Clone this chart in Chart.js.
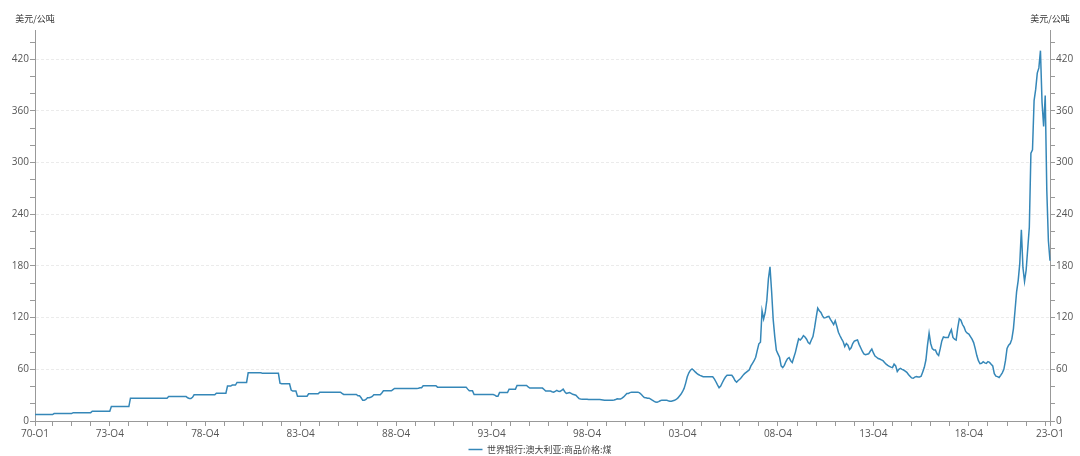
<!DOCTYPE html>
<html>
<head>
<meta charset="utf-8">
<script src="https://cdn.jsdelivr.net/npm/chart.js@4.4.1/dist/chart.umd.min.js"></script>
<style>
    body { margin: 0; background: #fff; }
    #wrap { width: 1080px; height: 456px; position: relative; }
</style>
</head>
<body>
<div id="wrap"><canvas id="coal"></canvas></div>
<script>
var startYear = 1970;
var unitLabel = '美元/公吨';
var seriesName = '世界银行:澳大利亚:商品价格:煤';
var lineColor = '#3587b8';

// labels printed under the x axis
var shownTicks = ['70-Q1', '73-Q4', '78-Q4', '83-Q4', '88-Q4', '93-Q4', '98-Q4',
    '03-Q4', '08-Q4', '13-Q4', '18-Q4', '23-Q1'];

// monthly price, USD/t, one row per year (Jan..Dec)
var coalPrice = [
    7.5, 7.5, 7.5, 7.5, 7.5, 7.5, 7.5, 7.5, 7.5, 7.5, 7.5, 7.5,                 // 1970
    8.6, 8.6, 8.6, 8.6, 8.6, 8.6, 8.6, 8.6, 8.6, 8.6, 8.6, 8.6,
    9.7, 9.7, 9.7, 9.7, 9.7, 9.7, 9.7, 9.7, 9.7, 9.7, 9.7, 9.7,
    11.3, 11.3, 11.3, 11.3, 11.3, 11.3, 11.3, 11.3, 11.3, 11.3, 11.3, 11.3,
    16.8, 16.8, 16.8, 16.8, 16.8, 16.8, 16.8, 16.8, 16.8, 16.8, 16.8, 16.8,
    26.5, 26.5, 26.5, 26.5, 26.5, 26.5, 26.5, 26.5, 26.5, 26.5, 26.5, 26.5,     // 1975
    26.5, 26.5, 26.5, 26.5, 26.5, 26.5, 26.5, 26.5, 26.5, 26.5, 26.5, 26.5,
    28.4, 28.4, 28.4, 28.4, 28.4, 28.4, 28.4, 28.4, 28.4, 28.4, 28.4, 28.4,
    27, 26, 26, 27.5, 30.4, 30.4, 30.4, 30.4, 30.4, 30.4, 30.4, 30.4,
    30.4, 30.4, 30.4, 30.4, 30.4, 30.4, 32.3, 32.3, 32.3, 32.3, 32.3, 32.3,
    32.3, 40.5, 40.5, 40.5, 41.7, 41.7, 41.7, 44.8, 44.8, 44.8, 44.8, 44.8,     // 1980
    44.8, 44.8, 56, 56, 56, 56, 56, 56, 56, 56, 56, 55.3,
    55.3, 55.3, 55.3, 55.3, 55.3, 55.3, 55.3, 55.3, 55.3, 55.3, 44, 43.2,
    43.2, 43.2, 43.2, 43.2, 43.2, 36, 34.7, 34.7, 34.7, 28.8, 28.8, 28.8,
    28.8, 28.8, 28.8, 28.8, 31.6, 31.6, 31.6, 31.6, 31.6, 31.6, 31.6, 33.5,
    33.5, 33.5, 33.5, 33.5, 33.5, 33.5, 33.5, 33.5, 33.5, 33.5, 33.5, 33.5,     // 1985
    33.5, 32, 30.8, 30.8, 30.8, 30.8, 30.8, 30.8, 30.8, 30.8, 30.8, 29.2,
    29.2, 27, 24, 24, 25, 27, 27, 27.5, 28.5, 30.4, 30.4, 30.4,
    30.4, 30.4, 32.5, 35, 35, 35, 35, 35, 35, 36.5, 37.8, 37.8,
    37.8, 37.8, 37.8, 37.8, 37.8, 37.8, 37.8, 37.8, 37.8, 37.8, 37.8, 37.8,
    37.8, 38, 38.6, 38.6, 40.9, 40.9, 40.9, 40.9, 40.9, 40.9, 40.9, 40.9,       // 1990
    40.9, 39.3, 39.3, 39.3, 39.3, 39.3, 39.3, 39.3, 39.3, 39.3, 39.3, 39.3,
    39.3, 39.3, 39.3, 39.3, 39.3, 39.3, 39.3, 39.3, 37, 35, 35, 35,
    30.8, 30.8, 30.8, 30.8, 30.8, 30.8, 30.8, 30.8, 30.8, 30.8, 30.8, 30.8,
    30.8, 30, 28.8, 28.8, 33, 33, 33, 33, 33, 33, 37, 37,
    37, 37, 37, 41.3, 41.3, 41.3, 41.3, 41.3, 41.3, 41.3, 39.5, 38.2,           // 1995
    38.2, 38.2, 38.2, 38.2, 38.2, 38.2, 38.2, 38.2, 36.5, 34.7, 34.7, 34.7,
    34.7, 34, 33.5, 34.5, 35.5, 34.5, 34.3, 35.5, 37, 34, 32, 32.5,
    33, 32, 31, 30.5, 30, 28, 26, 25.5, 25.3, 25.3, 25.3, 25.2,
    25, 25, 25, 25, 25, 25, 25, 25, 24.8, 24.5, 24.2, 24.2,
    24.2, 24.2, 24.2, 24.2, 24.5, 25, 25.7, 25.5, 25.5, 26.5, 28, 30,           // 2000
    32, 32, 33, 33.5, 33.5, 33.5, 33.5, 33.5, 32.7, 31, 29, 27.3,
    27, 26.5, 26.5, 25.5, 24.2, 23, 22, 21.8, 22.5, 23.5, 24.2, 24.2,
    24.2, 24.2, 23.5, 23, 23, 23.5, 24, 25, 26.5, 28.8, 31, 34,
    37.8, 44, 51.4, 56, 59, 60.4, 59, 57, 55.3, 54, 53, 52.2,
    51.5, 51.4, 51.4, 51.4, 51.4, 51.4, 51.4, 49, 45.6, 42, 38.6, 40.5,         // 2005
    44.4, 48, 51, 53, 53, 53, 53, 50.5, 47, 45, 47, 48.5,
    50.5, 53, 55, 56.5, 58, 59.5, 64, 67, 70, 74, 82, 89.6,
    91.5, 128, 118.5, 126, 140, 165, 179, 151, 118, 98, 82, 78,
    74, 64, 62, 64.6, 69, 72.3, 73.5, 70, 68, 74, 80, 88,
    95.4, 94, 96, 99.2, 97.5, 95, 91, 89.6, 94, 98, 108, 120,                   // 2010
    131, 128, 126, 122, 119.6, 120, 121, 121.5, 118, 115, 112, 116.5,
    110, 103, 99, 95.4, 92, 86.5, 90, 88, 83, 85, 90, 92.7,
    93.5, 94.2, 89, 85, 81, 78, 77, 77.5, 78, 81, 83.5, 79,
    75.5, 74, 72.5, 72, 71, 70, 68, 66, 64.5, 63.5, 62.5, 62,
    66, 64, 57.5, 60, 61, 60, 59.2, 58, 56.5, 54, 52, 50,                       // 2015
    49.6, 51, 51.5, 51, 51, 52, 57, 62.3, 70.8, 88, 102, 90,
    84, 82.3, 82.3, 78, 76, 84, 93, 97.7, 97, 97, 97, 102,
    106, 97, 95, 94, 108, 118.8, 117, 112, 109, 104, 102, 101,
    98, 95, 91, 84, 76, 70, 66.5, 67, 68.8, 67.5, 67, 69,
    68, 66, 64, 55, 52, 51.5, 50.5, 53, 56, 60, 70, 84.2,                       // 2020
    88, 90, 95, 107, 128, 150, 163, 183, 222, 178, 162, 175,
    200, 225, 311, 315, 372, 385, 404, 410, 430, 370, 342, 378,
    267, 209, 186                                                               // 2023 Q1
];

var months = [];
for (var i = 0; i < coalPrice.length; i++) {
    var yr = startYear + Math.floor(i / 12);
    var q = Math.floor((i % 12) / 3) + 1;
    months.push(String(yr).slice(2) + '-Q' + q);
}

var tickFont = { family: "'Open Sans', 'Noto Sans CJK SC', sans-serif", size: 10 };
var cjkFont = "'Noto Sans CJK SC', sans-serif";

function yAxis(pos) {
    return {
        position: pos,
        min: 0,
        max: 454,
        afterBuildTicks: function(scale) {
            scale.ticks = scale.ticks.filter(function(t) { return t.value % 20 === 0; });
        },
        afterFit: function(scale) {
            scale.width = pos === 'left' ? 35 : 30;
        },
        ticks: {
            stepSize: 20,
            autoSkip: false,
            color: '#555',
            font: tickFont,
            padding: 1,
            callback: function(v) { return v % 60 === 0 ? v : ''; }
        },
        grid: {
            drawOnChartArea: pos === 'left',
            color: function(c) {
                return c.tick && c.tick.value > 0 && c.tick.value % 60 === 0 ? '#ebebeb' : 'rgba(0,0,0,0)';
            },
            tickColor: '#999',
            tickLength: 5
        },
        border: { color: '#999', dash: [3, 2] }
    };
}

// unit text above both y axes
var unitTitles = {
    id: 'unitTitles',
    afterDraw: function(chart) {
        var ctx = chart.ctx;
        ctx.save();
        ctx.font = '9px ' + cjkFont;
        ctx.fillStyle = '#333';
        ctx.textAlign = 'center';
        ctx.textBaseline = 'middle';
        ctx.fillText(unitLabel, chart.chartArea.left, 19);
        ctx.fillText(unitLabel, chart.chartArea.right, 19);
        ctx.restore();
    }
};

// push the legend row down to the bottom edge
var legendNudge = {
    id: 'legendNudge',
    afterLayout: function(chart) {
        chart.legend.top += 8;
        chart.legend.bottom += 8;
    }
};

var ctx = document.getElementById('coal').getContext('2d');

var coalChart = new Chart(ctx, {
    type: 'line',
    data: {
        labels: months,
        datasets: [{
            label: seriesName,
            data: coalPrice,
            borderColor: lineColor,
            backgroundColor: lineColor,
            borderWidth: 1.5,
            pointRadius: 0,
            tension: 0,
            yAxisID: 'yLeft'
        }]
    },
    options: {
        responsive: true,
        maintainAspectRatio: false,
        animation: false,
        layout: { padding: { top: 30, left: 0, right: 0, bottom: 0 } },
        plugins: {
            legend: {
                position: 'bottom',
                labels: {
                    usePointStyle: true,
                    pointStyle: 'line',
                    pointStyleWidth: 14,
                    boxHeight: 9,
                    padding: 0,
                    color: '#444',
                    font: { family: cjkFont, size: 9 }
                }
            },
            tooltip: { enabled: false }
        },
        scales: {
            x: {
                type: 'category',
                afterBuildTicks: function(scale) {
                    var last = coalPrice.length - 1;
                    scale.ticks = scale.ticks.filter(function(t) {
                        return t.value === 0 || t.value === last || t.value % 12 === 11;
                    });
                },
                afterFit: function(scale) { scale.height = 16; },
                ticks: {
                    autoSkip: false,
                    maxRotation: 0,
                    minRotation: 0,
                    color: '#555',
                    font: tickFont,
                    padding: 2,
                    callback: function(v) {
                        var lab = this.getLabelForValue(v);
                        return shownTicks.indexOf(lab) >= 0 ? lab : '';
                    }
                },
                grid: { drawOnChartArea: false, tickColor: '#999', tickLength: 5 },
                border: { color: '#999' }
            },
            yLeft: yAxis('left'),
            yRight: yAxis('right')
        }
    },
    plugins: [unitTitles, legendNudge]
});
</script>
</body>
</html>
